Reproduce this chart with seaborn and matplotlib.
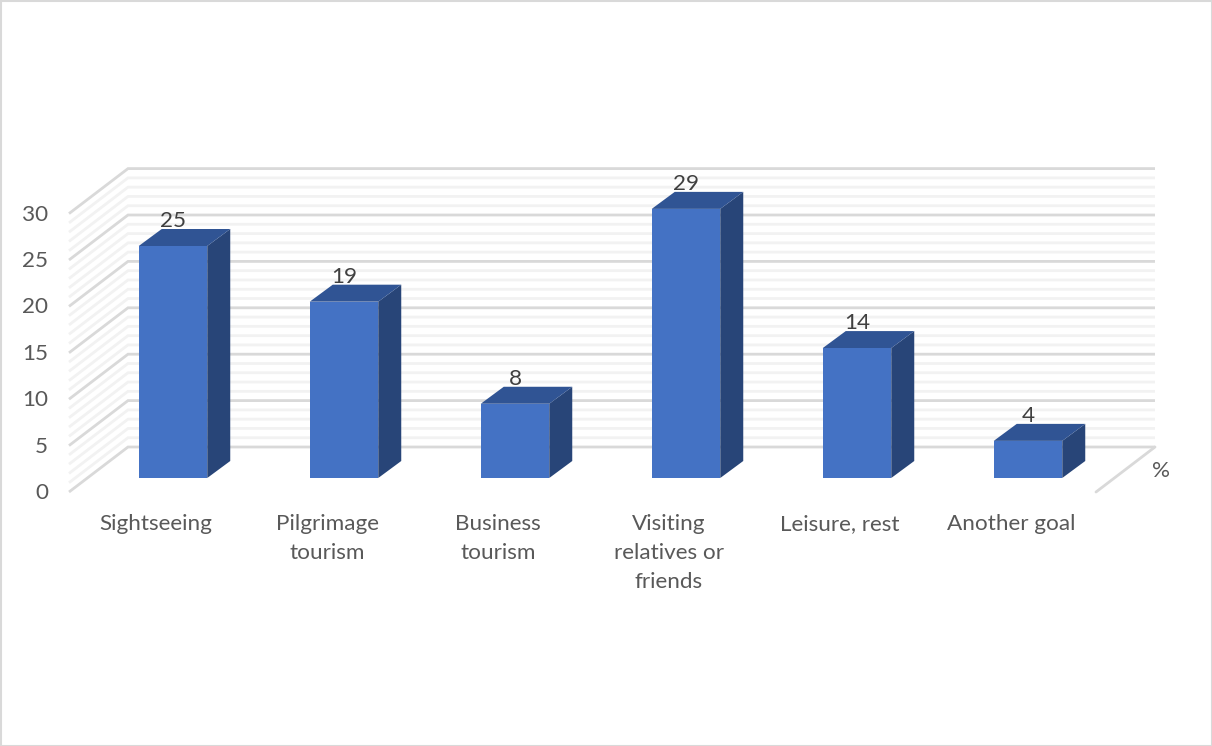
import matplotlib
matplotlib.use("Agg")
import matplotlib.pyplot as plt
from matplotlib.patches import Polygon, Rectangle
from matplotlib.transforms import ScaledTranslation
import pandas as pd
import seaborn as sns

categories = ["Sightseeing", "Pilgrimage\ntourism", "Business\ntourism",
              "Visiting\nrelatives or\nfriends", "Leisure, rest", "Another goal"]
shares = [25, 19, 8, 29, 14, 4]
major_ticks = [0, 5, 10, 15, 20, 25, 30]
minor_ticks = [v for v in range(0, 31) if v % 5]

FRONT = "#4472C4"
TOP = "#305494"
SIDE = "#284578"
GRID_MAJOR = "#D9D9D9"
GRID_MINOR = "#F2F2F2"
BORDER = "#D9D9D9"
FONT_SIZE = 16.2

W, H, DPI = 1212, 746, 100
sns.set_theme(style="white")
plt.rcParams["font.family"] = ["Lato", "DejaVu Sans"]

# Pixel layout of the pseudo-3D box
BOX_L, BOX_R = 69, 1155
BOX_BOTTOM, BOX_TOP = 492, 168
PX_PER_X, PX_PER_Y = 171.0, 9.28
X0_PX, Y0_PX = 173.0, 478
WALL_DX, WALL_DY = 59, 45
BAR_DX, BAR_DY = 23, 17

fig = plt.figure(figsize=(W / DPI, H / DPI), dpi=DPI, facecolor="white")
ax = fig.add_axes([BOX_L / W, 1 - BOX_BOTTOM / H,
                   (BOX_R - BOX_L) / W, (BOX_BOTTOM - BOX_TOP) / H])

df = pd.DataFrame({"goal": categories, "share": shares})
sns.barplot(data=df, x="goal", y="share", color=FRONT, saturation=1,
            width=68.5 / PX_PER_X, ax=ax, zorder=5, linewidth=0)

ax.set_xlim((BOX_L - X0_PX) / PX_PER_X, (BOX_R - X0_PX) / PX_PER_X)
ax.set_ylim((Y0_PX - BOX_BOTTOM) / PX_PER_Y, (Y0_PX - BOX_TOP) / PX_PER_Y)
ax.set_xlabel("")
ax.set_ylabel("")
sns.despine(ax=ax, left=True, bottom=True)

dx_wall, dy_wall = WALL_DX / PX_PER_X, WALL_DY / PX_PER_Y
dx_bar, dy_bar = BAR_DX / PX_PER_X, BAR_DY / PX_PER_Y
x_left, x_right = ax.get_xlim()
y_floor = ax.get_ylim()[0]


def draw_grid(values, color, width, z):
    # One diagonal on the side wall and one horizontal on the back wall per value
    for v in values:
        ax.plot([x_left, x_left + dx_wall, x_right],
                [v + y_floor, v + y_floor + dy_wall, v + y_floor + dy_wall],
                color=color, lw=width, zorder=z, clip_on=False,
                solid_capstyle="butt", solid_joinstyle="miter")


draw_grid(minor_ticks, GRID_MINOR, 2.0, 1)
draw_grid(major_ticks, GRID_MAJOR, 2.0, 2)

# Floor edge on the right-hand side
ax.plot([x_right, x_right - dx_wall], [y_floor + dy_wall, y_floor],
        color=GRID_MAJOR, lw=2.0, zorder=2, clip_on=False)

# Side and top faces that extrude each bar
container = ax.containers[0]
for bar in container:
    x0, x1 = bar.get_x(), bar.get_x() + bar.get_width()
    h = bar.get_height()
    ax.add_patch(Polygon([(x1, 0), (x1 + dx_bar, dy_bar), (x1 + dx_bar, h + dy_bar), (x1, h)],
                         facecolor=SIDE, edgecolor="none", zorder=4))
    ax.add_patch(Polygon([(x0, h), (x0 + dx_bar, h + dy_bar), (x1 + dx_bar, h + dy_bar), (x1, h)],
                         facecolor=TOP, edgecolor="none", zorder=4))

ax.bar_label(container, fmt="%g", padding=10.5, fontsize=FONT_SIZE, color="#404040", zorder=6)

# Tick labels sit on the front edge of the box
ax.set_yticks(major_ticks)
ax.tick_params(axis="both", length=0)
ax.tick_params(axis="y", labelsize=FONT_SIZE, labelcolor="#595959", pad=15)
ax.tick_params(axis="x", labelsize=FONT_SIZE, labelcolor="#595959", pad=16)
y_shift = ScaledTranslation(0, -13 / DPI, fig.dpi_scale_trans)
x_shift = ScaledTranslation(-17 / DPI, 0, fig.dpi_scale_trans)
for lab in ax.get_yticklabels():
    lab.set_transform(lab.get_transform() + y_shift)
for lab in ax.get_xticklabels():
    lab.set_transform(lab.get_transform() + x_shift)
    lab.set_linespacing(1.56)

fig.text(1161 / W, 1 - 471 / H, "%", fontsize=FONT_SIZE, color="#595959", ha="center", va="center")

# Chart-area frame
fig.add_artist(Rectangle((0.5 / W, 0.5 / H), (W - 1) / W, (H - 1) / H,
                         transform=fig.transFigure, fill=False,
                         edgecolor=BORDER, lw=1.5))

fig.savefig("out.png", dpi=DPI)
